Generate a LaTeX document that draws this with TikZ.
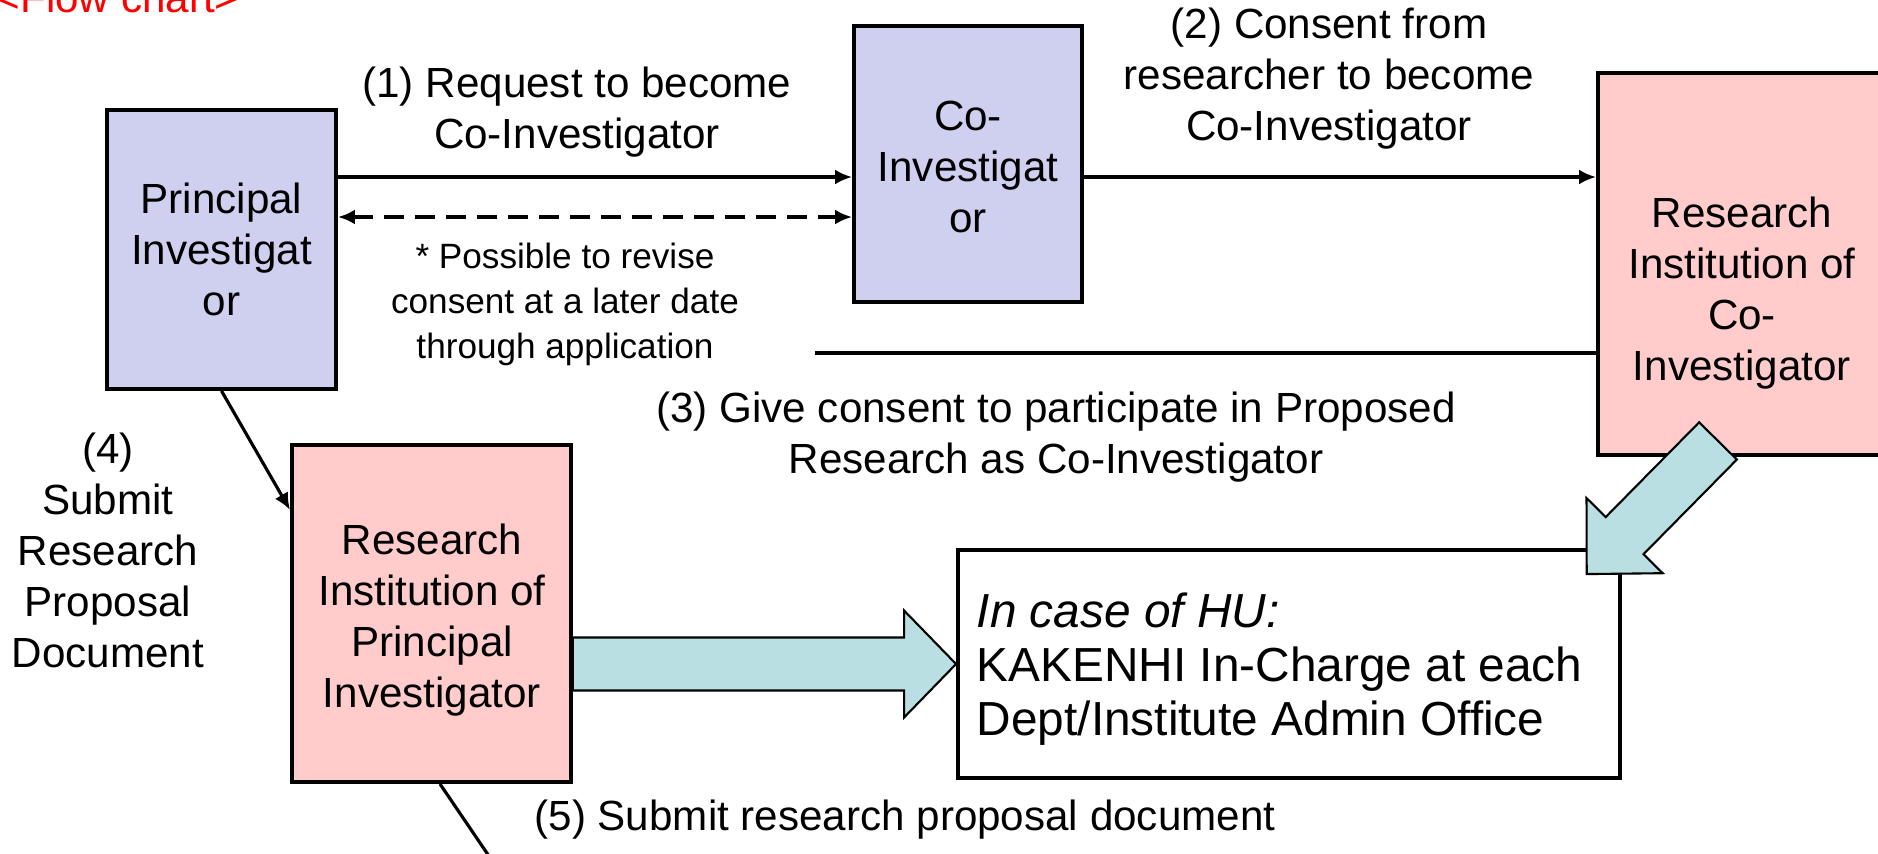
\documentclass[tikz,border=0pt]{standalone}
\usepackage{fontspec}
\setmainfont{Liberation Sans}
\usetikzlibrary{arrows.meta,calc}
\definecolor{pilav}{RGB}{207,208,239}
\definecolor{instpink}{RGB}{255,203,203}
\definecolor{bigarrow}{RGB}{185,223,226}

\begin{document}
\begin{tikzpicture}[auto,
  person/.style ={rectangle, draw, line width=1.1pt, fill=pilav, align=center, inner sep=0pt, font=\fontsize{12}{14.5}\selectfont},
  institute/.style ={rectangle, draw, line width=1.1pt, fill=instpink, inner sep=0pt},
  caption/.style ={align=center, inner sep=0pt, font=\fontsize{12}{14.5}\selectfont},
  flow/.style ={line width=0.9pt, -{Latex[length=1.7mm,width=1.5mm]}},
  wide/.style ={draw, line width=0.6pt, fill=bigarrow}]
 \useasboundingbox (0,0) rectangle (18.78,8.53);
 \clip (0,0) rectangle (18.78,8.53);
 \node[caption, anchor=base west, text=red] (title) at (-0.05,8.41) {<Flow chart>};
 % boxes
 \node[person, minimum width=2.29cm, minimum height=2.79cm] (pi) at (2.215,6.035) {Principal\\Investigat\\or};
 \node[person, minimum width=2.28cm, minimum height=2.76cm] (coi) at (9.68,6.89) {};
 \node[caption] (coi-txt) at (9.68,6.86) {Co-\\Investigat\\or};
 \node[institute, minimum width=2.92cm, minimum height=3.82cm] (rico) at (17.44,5.89) {};
 \node[caption] (rico-txt) at (17.42,5.60) {Research\\Institution of\\Co-\\Investigator};
 \node[institute, minimum width=2.79cm, minimum height=3.37cm] (ripi) at (4.315,2.395) {};
 \node[caption] (ripi-txt) at (4.32,2.33) {Research\\Institution of\\Principal\\Investigator};
 \node[draw, line width=1.1pt, fill=white, minimum width=6.62cm, minimum height=2.28cm] (kak) at (12.89,1.89) {};
 \node[caption, anchor=west, align=left, font=\fontsize{13.6}{15.4}\selectfont] (kak-txt) at ($(kak.west)+(0.2,-0.05)$)
   {\textit{In case of HU:}\\KAKENHI In-Charge at each\\Dept/Institute Admin Office};
 % labels
 \node[caption] (lab1) at (5.77,7.41) {(1) Request to become\\Co-Investigator};
 \node[caption] (lab2) at (13.29,7.74) {(2) Consent from\\researcher to become\\Co-Investigator};
 \node[caption, font=\fontsize{10}{12.8}\selectfont] (note) at (5.65,5.49) {* Possible to revise\\consent at a later date\\through application};
 \node[caption] (lab3) at (10.56,4.16) {(3) Give consent to participate in Proposed\\Research as Co-Investigator};
 \node[caption] (lab4) at (1.08,3.03) {(4)\\Submit\\Research\\Proposal\\Document};
 \node[caption] (lab5) at (9.05,0.33) {(5) Submit research proposal document};
 % connectors
 \coordinate (r1) at ($(pi.east)+(0,0.725)$);
 \coordinate (r2) at ($(pi.east)+(0,0.325)$);
 \coordinate (l3) at (8.15,5.00);
 \coordinate (l5) at (4.93,-0.09);
 \draw[flow] (r1) to (r1 -| coi.west);
 \draw[flow, {Latex[length=1.7mm,width=1.5mm]}-{Latex[length=1.7mm,width=1.5mm]}, line width=1.1pt,
   dash pattern=on 2mm off 1.1mm] (r2) to (r2 -| coi.west);
 \draw[flow] (r1 -| coi.east) to (r1 -| rico.west);
 \draw[line width=1pt] (l3) to (l3 -| rico.west);
 \draw[flow] (pi.south) to ($(ripi.west)+(0,1.035)$);
 \draw[line width=0.9pt] ($(ripi.south)+(0.085,0)$) to (l5);
 % block arrows
 \draw[wide] ($(ripi.east |- kak.west)+(0,0.265)$) -- ($(kak.west)+(-0.52,0.265)$)
   -- ($(kak.west)+(-0.52,0.535)$) -- (kak.west) -- ($(kak.west)+(-0.52,-0.535)$)
   -- ($(kak.west)+(-0.52,-0.265)$) -- ($(ripi.east |- kak.west)+(0,-0.265)$) -- cycle;
 \coordinate (dtail) at ($(rico.south)+(-0.26,0.16)$);
 \begin{scope}[shift={(dtail)}, rotate=-134.6]
  \draw[wide] (0,-0.265) -- (1.33,-0.265) -- (1.33,-0.535) -- (1.87,0) -- (1.33,0.535)
    -- (1.33,0.265) -- (0,0.265) -- cycle;
 \end{scope}
\end{tikzpicture}
\end{document}
